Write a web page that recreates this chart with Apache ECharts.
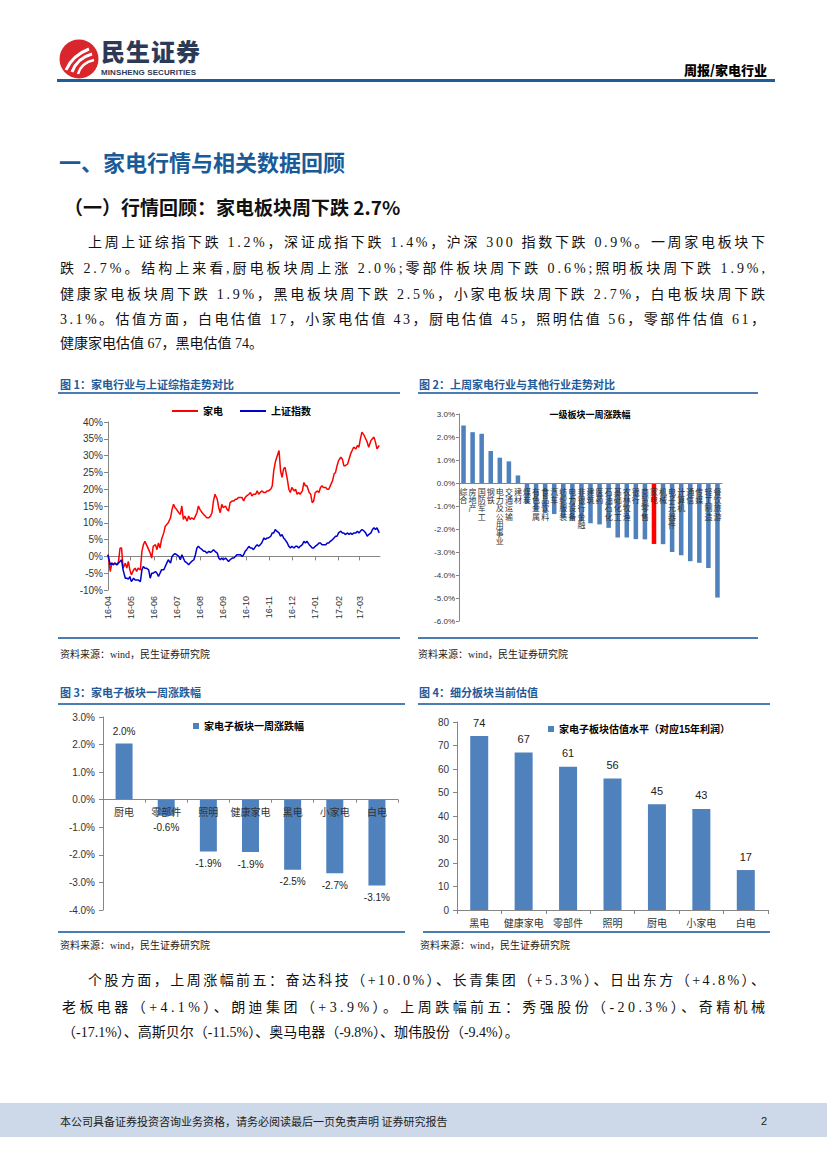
<!DOCTYPE html>
<html><head><meta charset="utf-8">
<script src="https://cdn.jsdelivr.net/npm/echarts@6/dist/echarts.min.js"></script>
<style>
html,body{margin:0;padding:0;background:#fff;}
#page{position:relative;width:827px;height:1169px;overflow:hidden;font-family:"Liberation Serif","Noto Sans CJK SC",serif;color:#000;}
.abs{position:absolute;white-space:nowrap;}
.ln{position:absolute;line-height:20px;height:20px;font-size:14px;white-space:nowrap;color:#111;}
.figt{position:absolute;font-family:"Noto Sans CJK SC",sans-serif;font-weight:bold;font-size:11px;color:#1f5a99;line-height:14px;white-space:nowrap;}
.rule{position:absolute;height:2px;background:#4a7db3;}
.src{position:absolute;font-size:10px;line-height:12px;color:#222;white-space:nowrap;}
.chart{position:absolute;}
</style></head><body><div id="page">

<svg width="40" height="40" viewBox="0 0 40 40" style="position:absolute;left:59px;top:39px">
  <circle cx="20" cy="20" r="19.5" fill="#d9262c"/>
  <path d="M7 31 C11 22 17 15 30 10" stroke="#fff" stroke-width="3" fill="none"/>
  <path d="M13 33 C16 25 22 18 33 15" stroke="#fff" stroke-width="3" fill="none"/>
  <path d="M19 35 C21 28 26 23 35 21" stroke="#fff" stroke-width="2.5" fill="none"/>
</svg>
<div class="abs" style="left:101px;top:38px;font-family:'Noto Sans CJK SC';font-weight:900;font-size:24px;line-height:26px;color:#2c3a56;letter-spacing:1px;">民生证券</div>
<div class="abs" style="left:101px;top:68px;font-family:'Liberation Sans';font-weight:bold;font-size:8px;line-height:9px;color:#2c3a56;letter-spacing:0.1px;">MINSHENG SECURITIES</div>
<div class="abs" style="right:60px;top:61px;font-family:'Noto Sans CJK SC';font-weight:900;font-size:13px;line-height:18px;">周报/家电行业</div>
<div class="abs" style="left:57px;top:79px;width:718px;height:3px;background:#1f5c99;"></div>

<div class="abs" style="left:59px;top:147px;font-family:'Noto Sans CJK SC';font-weight:bold;font-size:22px;line-height:28px;color:#1a5a96;">一、家电行情与相关数据回顾</div>
<div class="abs" style="left:64px;top:195px;font-family:'Noto Sans CJK SC';font-weight:bold;font-size:19px;line-height:24px;color:#111;">（一）行情回顾：家电板块周下跌 2.7%</div>

<div class="ln" style="left:88px;top:233px" data-w="677">上周上证综指下跌 1.2%，深证成指下跌 1.4%，沪深 300 指数下跌 0.9%。一周家电板块下</div>
<div class="ln" style="left:60px;top:259px" data-w="705">跌 2.7%。结构上来看,厨电板块周上涨 2.0%;零部件板块周下跌 0.6%;照明板块周下跌 1.9%,</div>
<div class="ln" style="left:60px;top:285px" data-w="705">健康家电板块周下跌 1.9%，黑电板块周下跌 2.5%，小家电板块周下跌 2.7%，白电板块周下跌</div>
<div class="ln" style="left:60px;top:310px" data-w="705">3.1%。估值方面，白电估值 17，小家电估值 43，厨电估值 45，照明估值 56，零部件估值 61，</div>
<div class="ln" style="left:60px;top:334px">健康家电估值 67，黑电估值 74。</div>

<div class="figt" style="left:60px;top:377px">图 1：家电行业与上证综指走势对比</div>
<div class="rule" style="left:58px;top:392px;width:342px"></div>
<div class="figt" style="left:419px;top:377px">图 2：上周家电行业与其他行业走势对比</div>
<div class="rule" style="left:418px;top:392px;width:340px"></div>
<div id="c1" class="chart" style="left:55px;top:395px;width:350px;height:240px"></div>
<div id="c2" class="chart" style="left:415px;top:395px;width:350px;height:240px"></div>
<div class="rule" style="left:58px;top:637px;width:342px"></div>
<div class="rule" style="left:418px;top:637px;width:340px"></div>
<div class="src" style="left:60px;top:649px">资料来源：wind，民生证券研究院</div>
<div class="src" style="left:418px;top:649px">资料来源：wind，民生证券研究院</div>

<div class="figt" style="left:60px;top:685px">图 3：家电子板块一周涨跌幅</div>
<div class="rule" style="left:58px;top:703px;width:347px"></div>
<div class="figt" style="left:419px;top:685px">图 4：细分板块当前估值</div>
<div class="rule" style="left:418px;top:703px;width:352px"></div>
<div id="c3" class="chart" style="left:55px;top:706px;width:350px;height:218px"></div>
<div id="c4" class="chart" style="left:415px;top:706px;width:360px;height:224px"></div>
<div class="rule" style="left:58px;top:931px;width:347px"></div>
<div class="rule" style="left:423px;top:931px;width:347px"></div>
<div class="src" style="left:60px;top:940px">资料来源：wind，民生证券研究院</div>
<div class="src" style="left:420px;top:940px">资料来源：wind，民生证券研究院</div>

<div class="ln" style="left:88px;top:971px" data-w="677">个股方面，上周涨幅前五：奋达科技（+10.0%）、长青集团（+5.3%）、日出东方（+4.8%）、</div>
<div class="ln" style="left:62px;top:998px" data-w="703">老板电器（+4.1%）、朗迪集团（+3.9%）。上周跌幅前五：秀强股份（-20.3%）、奇精机械</div>
<div class="ln" style="left:62px;top:1023px">（-17.1%）、高斯贝尔（-11.5%）、奥马电器（-9.8%）、珈伟股份（-9.4%）。</div>

<div class="abs" style="left:0;top:1103px;width:827px;height:34px;background:#cdd9e8;"></div>
<div class="abs" style="left:60px;top:1113px;font-family:'Noto Sans CJK SC';font-size:11px;line-height:16px;color:#222;">本公司具备证券投资咨询业务资格，请务必阅读最后一页免责声明 证券研究报告</div>
<div class="abs" style="left:761px;top:1113px;font-family:'Liberation Sans';font-size:11px;line-height:16px;color:#222;">2</div>
</div>
<script>
// justify text lines to their target width
document.querySelectorAll('[data-w]').forEach(el => {
  const target = +el.dataset.w;
  const w = el.getBoundingClientRect().width;
  const n = Array.from(el.textContent).length;
  if (n > 1) el.style.letterSpacing = ((target - w) / (n - 1)) + 'px';
});

// ---------- Figure 1 data ----------
const dates1 = [
'2016-04-01','2016-04-04','2016-04-06','2016-04-08','2016-04-10','2016-04-13','2016-04-15','2016-04-17','2016-04-19','2016-04-21',
'2016-04-24','2016-04-26','2016-04-28','2016-04-30','2016-05-02','2016-05-05','2016-05-07','2016-05-09','2016-05-11','2016-05-14',
'2016-05-16','2016-05-18','2016-05-20','2016-05-22','2016-05-25','2016-05-27','2016-05-29','2016-05-31','2016-06-03','2016-06-05',
'2016-06-07','2016-06-09','2016-06-11','2016-06-14','2016-06-16','2016-06-18','2016-06-20','2016-06-23','2016-06-25','2016-06-27',
'2016-06-29','2016-07-01','2016-07-04','2016-07-06','2016-07-08','2016-07-10','2016-07-12','2016-07-15','2016-07-17','2016-07-19',
'2016-07-21','2016-07-24','2016-07-26','2016-07-28','2016-07-30','2016-08-01','2016-08-04','2016-08-06','2016-08-08','2016-08-10',
'2016-08-13','2016-08-15','2016-08-17','2016-08-19','2016-08-21','2016-08-24','2016-08-26','2016-08-28','2016-08-30','2016-09-01',
'2016-09-04','2016-09-06','2016-09-08','2016-09-10','2016-09-13','2016-09-15','2016-09-17','2016-09-19','2016-09-21','2016-09-24',
'2016-09-26','2016-09-28','2016-09-30','2016-10-02','2016-10-05','2016-10-07','2016-10-09','2016-10-11','2016-10-14','2016-10-16',
'2016-10-18','2016-10-20','2016-10-22','2016-10-25','2016-10-27','2016-10-29','2016-10-31','2016-11-03','2016-11-05','2016-11-07',
'2016-11-09','2016-11-11','2016-11-14','2016-11-16','2016-11-18','2016-11-20','2016-11-22','2016-11-25','2016-11-27','2016-11-29',
'2016-12-01','2016-12-04','2016-12-06','2016-12-08','2016-12-10','2016-12-12','2016-12-15','2016-12-17','2016-12-19','2016-12-21',
'2016-12-24','2016-12-26','2016-12-28','2016-12-30','2017-01-01','2017-01-04','2017-01-06','2017-01-08','2017-01-10','2017-01-12',
'2017-01-15','2017-01-17','2017-01-19','2017-01-21','2017-01-24','2017-01-26','2017-01-28','2017-01-30','2017-02-01','2017-02-04',
'2017-02-06','2017-02-08','2017-02-10','2017-02-13','2017-02-15','2017-02-17','2017-02-19','2017-02-21','2017-02-24','2017-02-26',
'2017-02-28','2017-03-02','2017-03-04','2017-03-07','2017-03-09','2017-03-11','2017-03-13','2017-03-16','2017-03-18','2017-03-20',
'2017-03-22','2017-03-24','2017-03-27'];
const homeAppliance = [
0.5,-4.5,-2.0,-2.5,-2.0,-2.5,-1.5,2.5,2.5,-3.5,
-2.0,-3.5,-1.5,-4.0,-5.5,-4.0,-3.5,-4.5,-3.5,-4.0,
1.5,3.5,4.5,3.5,2.0,1.0,-0.5,3.0,3.5,2.0,
4.0,2.5,5.0,7.0,9.0,9.5,10.0,11.5,14.0,15.5,
14.5,14.0,13.0,12.5,15.0,11.0,12.0,10.5,12.0,11.0,
11.5,11.0,12.0,13.0,15.0,14.0,13.0,12.5,12.0,11.5,
11.5,12.0,13.0,16.5,18.5,17.0,14.5,13.0,15.5,14.5,
15.0,14.0,13.5,16.0,16.5,16.5,17.0,17.0,17.5,17.5,
17.5,16.5,17.5,18.0,18.5,19.0,18.0,18.5,18.5,19.5,
18.5,19.0,19.5,19.0,19.0,19.5,19.5,20.0,21.0,25.5,
28.0,29.5,31.5,25.5,23.5,26.0,26.5,23.0,20.0,19.0,
20.5,19.5,20.0,18.5,19.0,18.5,19.5,22.0,21.0,21.0,
19.0,18.5,16.0,16.5,19.0,19.5,19.0,20.5,21.0,20.5,
20.5,20.0,20.0,21.0,22.5,24.5,25.0,27.0,28.5,29.5,
29.0,27.0,27.0,27.5,29.0,30.5,31.5,32.5,32.0,33.0,
32.5,35.0,37.0,36.0,35.0,34.0,32.5,34.5,35.0,35.5,
34.0,32.0,33.0];
const shIndex = [
0.5,-2.5,-2.0,-2.5,-2.0,-2.5,-2.0,-1.5,-1.0,-4.0,
-6.5,-6.5,-6.8,-6.0,-7.5,-6.5,-7.0,-7.0,-7.0,-7.5,
-4.0,-3.0,-3.5,-3.5,-4.0,-6.5,-5.0,-5.0,-4.5,-5.0,
-6.0,-5.0,-4.0,-4.0,-3.0,-2.0,-1.0,-2.0,0.0,0.5,
0.8,0.5,0.0,-1.0,0.5,-0.5,-1.5,-2.0,-2.5,-2.0,
-1.5,-1.0,0.5,2.5,3.0,2.5,2.0,1.5,1.5,1.0,
1.5,1.2,1.5,2.0,1.5,1.0,-0.5,-1.0,-0.5,-1.0,
-0.5,-1.0,-1.5,-1.0,-0.5,-0.5,0.0,0.5,0.5,0.5,
0.0,0.5,1.5,2.0,3.0,2.5,2.5,2.0,3.0,3.5,
3.0,3.5,4.0,5.5,5.0,5.5,5.5,6.0,7.0,7.0,
8.0,7.5,7.0,6.0,6.5,5.5,5.0,4.0,3.0,2.5,
3.0,2.5,3.0,3.0,2.5,3.0,3.5,4.5,4.0,4.5,
3.5,3.0,2.5,2.5,3.0,3.5,4.0,4.0,3.5,3.5,
3.5,4.0,4.0,4.5,5.0,5.5,6.0,6.0,7.0,7.5,
7.0,7.0,6.5,7.0,6.5,7.0,6.5,7.0,7.0,7.5,
7.0,7.5,8.0,7.5,7.0,6.0,6.5,7.0,8.0,8.5,
8.0,8.5,7.0];
const monthTicks = ['2016-04-01','2016-05-01','2016-06-01','2016-07-01','2016-08-01','2016-09-01','2016-10-01','2016-11-01','2016-12-01','2017-01-01','2017-02-01','2017-03-01'];
const monthLabels = ['16-04','16-05','16-06','16-07','16-08','16-09','16-10','16-11','16-12','17-01','17-02','17-03'];
const seriesNames1 = ['家电','上证指数'];

// ---------- Figure 2 data ----------
const industries = ['综合','房地产','国防军工','钢铁','电力及公用事业','交通运输','建材','煤炭','有色金属','食品饮料','汽车','纺织服装','电力设备','非银行金融','建筑','医药','石油石化','基础化工','农林牧渔','银行','商贸零售','家电','机械','电子元器件','计算机','通信','传媒','轻工制造','餐饮旅游'];
const industryChange = [2.50,2.21,2.14,1.39,1.10,0.94,0.33,-0.90,-1.20,-1.30,-1.35,-1.50,-1.60,-1.65,-1.75,-1.80,-1.95,-2.37,-2.37,-2.44,-2.45,-2.65,-2.66,-3.00,-3.14,-3.40,-3.47,-3.70,-4.98];
const highlightIndustry = '家电';

// ---------- Figure 3 data ----------
const subSectors3 = ['厨电','零部件','照明','健康家电','黑电','小家电','白电'];
const subChange = [2.04,-0.58,-1.88,-1.90,-2.54,-2.67,-3.11];

// ---------- Figure 4 data ----------
const subSectors4 = ['黑电','健康家电','零部件','照明','厨电','小家电','白电'];
const subValuation = [74,67,61,56,45,43,17];

const AX = '#868686', TXT = '#333';
const FONT = '"Liberation Sans","Noto Sans CJK SC",sans-serif';
const toTs = s => { const p = s.split('-').map(Number); return Date.UTC(p[0], p[1]-1, p[2]); };
const tickTs = monthTicks.map(toTs);

// Chart 1
try {
const c1 = echarts.init(document.getElementById('c1'), null, {renderer:'svg'});
c1.setOption({
  animation:false,
  textStyle:{fontFamily:FONT},
  grid:{left:53, top:27, width:272, height:168},
  legend:{left:112, top:6, icon:'rect', itemWidth:26, itemHeight:2, itemGap:17,
    textStyle:{fontSize:10, fontWeight:'bold', color:'#000', fontFamily:FONT}, data:seriesNames1},
  xAxis:{type:'value', min:toTs('2016-04-01'), max:toTs('2017-03-28'),
    axisLine:{lineStyle:{color:AX}}, splitLine:{show:false},
    axisTick:{customValues:tickTs, length:4, lineStyle:{color:AX}},
    axisLabel:{customValues:tickTs, rotate:90, fontSize:9, color:TXT, margin:6,
      formatter:v => { const i = tickTs.indexOf(v); return i >= 0 ? monthLabels[i] : ''; }}},
  yAxis:{type:'value', min:-10, max:40, interval:5,
    axisLine:{show:true, lineStyle:{color:AX}}, axisTick:{show:true, length:4, lineStyle:{color:AX}},
    splitLine:{show:false}, axisLabel:{formatter:'{value}%', fontSize:10, color:TXT, margin:5}},
  series:[
    {name:seriesNames1[0], type:'line', showSymbol:false, color:'#ff0000', lineStyle:{width:1.5, color:'#ff0000'},
      data:dates1.map((d,i)=>[toTs(d), homeAppliance[i]])},
    {name:seriesNames1[1], type:'line', showSymbol:false, color:'#0000cc', lineStyle:{width:1.5, color:'#0000cc'},
      data:dates1.map((d,i)=>[toTs(d), shIndex[i]])}
  ]
});
} catch(e) { console.error(e); }

// Chart 2 (category axis placed on the zero line: 6 of 9 units above the grid bottom)
try {
const g2h = 207, y2min = -6, y2max = 3;
const c2 = echarts.init(document.getElementById('c2'), null, {renderer:'svg'});
c2.setOption({
  animation:false,
  textStyle:{fontFamily:FONT},
  title:{text:'一级板块一周涨跌幅', left:'center', top:10, textStyle:{fontSize:9, fontWeight:'bold', color:'#000', fontFamily:FONT}},
  grid:{left:44, top:19, width:263, height:g2h},
  xAxis:{type:'category', data:industries, z:5,
    offset: -g2h * (0 - y2min) / (y2max - y2min),
    axisLine:{onZero:false, lineStyle:{color:AX}}, axisTick:{show:false},
    axisLabel:{interval:0, fontSize:8, lineHeight:8.3, color:TXT, margin:4, verticalAlign:'top',
      fontFamily:'"Noto Sans CJK SC",sans-serif',
      formatter:v => v.split('').join('\n')}},
  yAxis:{type:'value', min:y2min, max:y2max, interval:1,
    axisLine:{show:true, lineStyle:{color:AX}}, axisTick:{show:true, length:3, lineStyle:{color:AX}},
    splitLine:{show:false}, axisLabel:{formatter:v => v.toFixed(1)+'%', fontSize:8, color:TXT, margin:4}},
  series:[{type:'bar', barWidth:'50%',
    data:industryChange.map((v,i)=>({value:v, itemStyle:{color: industries[i]===highlightIndustry ? '#ff0000' : '#4f81bd'}}))}]
});
} catch(e) { console.error(e); }

// Chart 3
try {
const g3h = 193, y3min = -4, y3max = 3;
const c3 = echarts.init(document.getElementById('c3'), null, {renderer:'svg'});
c3.setOption({
  animation:false,
  textStyle:{fontFamily:FONT},
  legend:{left:133, top:10, icon:'rect', itemWidth:6, itemHeight:6, itemGap:4,
    textStyle:{fontSize:10, fontWeight:'bold', color:'#000', fontFamily:FONT}},
  grid:{left:48, top:11, width:295, height:g3h},
  xAxis:{type:'category', data:subSectors3, z:5,
    offset: -g3h * (0 - y3min) / (y3max - y3min),
    axisLine:{onZero:false, lineStyle:{color:AX}}, axisTick:{show:true, length:3, lineStyle:{color:AX}},
    axisLabel:{interval:0, fontSize:10, color:TXT, margin:7, fontFamily:'"Noto Sans CJK SC",sans-serif'}},
  yAxis:{type:'value', min:y3min, max:y3max, interval:1,
    axisLine:{show:true, lineStyle:{color:AX}}, axisTick:{show:true, length:4, lineStyle:{color:AX}},
    splitLine:{show:false}, axisLabel:{formatter:v => v.toFixed(1)+'%', fontSize:10, color:TXT, margin:8}},
  series:[{name:'家电子板块一周涨跌幅', type:'bar', barWidth:17, color:'#4f81bd',
    data:subChange.map(v=>({value:v, label:{position: v>=0 ? 'top' : 'bottom'}})),
    label:{show:true, distance:7, fontSize:10, color:'#222', formatter:p => p.value.toFixed(1)+'%'}}]
});
} catch(e) { console.error(e); }

// Chart 4
try {
const c4 = echarts.init(document.getElementById('c4'), null, {renderer:'svg'});
c4.setOption({
  animation:false,
  textStyle:{fontFamily:FONT},
  legend:{left:128, top:13, icon:'rect', itemWidth:6, itemHeight:6, itemGap:4,
    textStyle:{fontSize:10, fontWeight:'bold', color:'#000', fontFamily:FONT}},
  grid:{left:42, top:16, width:311, height:188},
  xAxis:{type:'category', data:subSectors4,
    axisLine:{lineStyle:{color:AX}}, axisTick:{show:true, length:4, lineStyle:{color:AX}},
    axisLabel:{interval:0, fontSize:10, color:TXT, margin:7, fontFamily:'"Noto Sans CJK SC",sans-serif'}},
  yAxis:{type:'value', min:0, max:80, interval:10,
    axisLine:{show:true, lineStyle:{color:AX}}, axisTick:{show:true, length:4, lineStyle:{color:AX}},
    splitLine:{show:false}, axisLabel:{fontSize:10, color:TXT, margin:8}},
  series:[{name:'家电子板块估值水平（对应15年利润）', type:'bar', barWidth:18, color:'#4f81bd', data:subValuation,
    label:{show:true, position:'top', distance:8, fontSize:11, color:'#222'}}]
});
} catch(e) { console.error(e); }
</script>
</body></html>
